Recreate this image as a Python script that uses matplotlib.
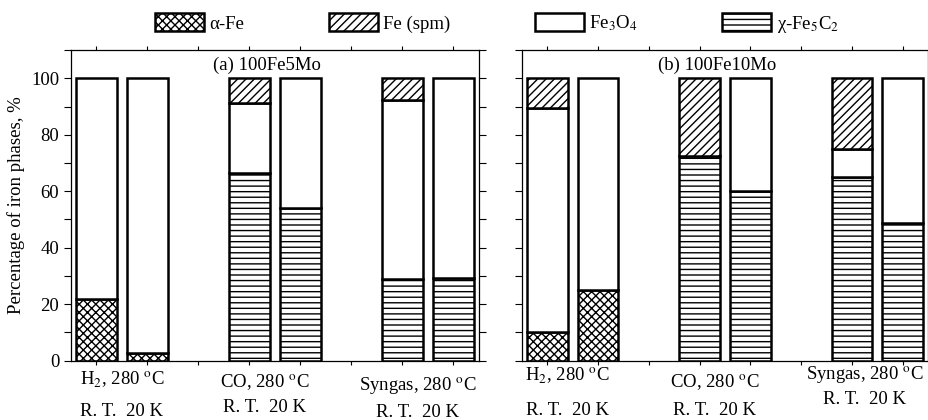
import numpy as np
import matplotlib
matplotlib.use('Agg')
import matplotlib.pyplot as plt
import matplotlib.patches as mpatches
from matplotlib.ticker import MultipleLocator
import matplotlib.transforms as mtransforms

plt.rcParams['font.family'] = ['Liberation Serif', 'DejaVu Serif']
plt.rcParams['mathtext.fontset'] = 'stix'
plt.rcParams['hatch.linewidth'] = 1.0

# x positions of bars (pairs: R.T. / 20 K)
positions = [1, 2, 4, 5, 7, 8]
conditions = ['H$_2$, 280 $^{\\rm o}$C', 'CO, 280 $^{\\rm o}$C', 'Syngas, 280 $^{\\rm o}$C']
temps = 'R. T.  20 K'
phase_names = ['α-Fe', 'Fe (spm)', 'Fe$_3$O$_4$', 'χ-Fe$_5$C$_2$']

# (a) 100Fe5Mo
a_alpha = [22.0, 2.8, 0, 0, 0, 0]
a_chi = [0, 0, 66.5, 54.2, 28.8, 29.3]
a_fe3o4 = [78.0, 97.2, 24.8, 45.8, 63.5, 70.7]
a_spm = [0, 0, 8.7, 0, 7.7, 0]

# (b) 100Fe10Mo
b_alpha = [10.3, 25.0, 0, 0, 0, 0]
b_chi = [0, 0, 72.5, 60.1, 65.2, 48.6]
b_fe3o4 = [79.3, 75.0, 0, 39.9, 9.7, 51.4]
b_spm = [10.4, 0, 27.5, 0, 25.1, 0]

hatches = {'alpha': 'xxxx', 'spm': '////', 'fe3o4': '', 'chi': '---'}
ew = 1.8
fs = 13.5

fig = plt.figure(figsize=(9.29, 4.2), dpi=100)
ax1 = fig.add_axes([0.0764, 0.1412, 0.4392, 0.7397])
ax2 = fig.add_axes([0.5619, 0.1412, 0.4370, 0.7397])


def draw(ax, alpha, chi, fe3o4, spm, title, l1_y, l2_y, dx):
    alpha = np.array(alpha)
    chi = np.array(chi)
    fe3o4 = np.array(fe3o4)
    spm = np.array(spm)
    kw = dict(width=0.8, color='white', edgecolor='black', linewidth=ew)
    ax.bar(positions, alpha, hatch=hatches['alpha'], **kw)
    ax.bar(positions, chi, bottom=alpha, hatch=hatches['chi'], **kw)
    ax.bar(positions, fe3o4, bottom=alpha + chi, hatch=hatches['fe3o4'], **kw)
    ax.bar(positions, spm, bottom=alpha + chi + fe3o4, hatch=hatches['spm'], **kw)
    # hide zero-height segments
    for p in ax.patches:
        if p.get_height() == 0:
            p.set_visible(False)

    ax.set_xlim(0.5, 8.5)
    ax.set_ylim(0, 110)
    ax.set_xticks(range(1, 9))
    ax.set_xticklabels([])
    ax.yaxis.set_major_locator(MultipleLocator(20))
    ax.yaxis.set_minor_locator(MultipleLocator(10))
    ax.tick_params(axis='y', which='both', direction='out', length=5, width=0.8,
                   labelsize=fs, right=True)
    ax.tick_params(axis='x', which='both', direction='out', length=3, width=0.8, top=True)
    for s in ax.spines.values():
        s.set_linewidth(0.9)
    ax.text(0.48, 0.952, title, transform=ax.transAxes, ha='center', va='center', fontsize=fs)

    trans = mtransforms.blended_transform_factory(ax.transData, ax.transAxes)
    for i, cond in enumerate(conditions):
        cx = (positions[2 * i] + positions[2 * i + 1]) / 2 + dx[i]
        ax.text(cx, l1_y[i], cond, transform=trans, ha='center', va='center', fontsize=fs)
        ax.text(cx, l2_y[i], temps, transform=trans, ha='center', va='center', fontsize=fs)


draw(ax1, a_alpha, a_chi, a_fe3o4, a_spm, '(a) 100Fe5Mo',
     [-0.062, -0.072, -0.082], [-0.165, -0.152, -0.168], [0.0, -0.2, -0.2])
draw(ax2, b_alpha, b_chi, b_fe3o4, b_spm, '(b) 100Fe10Mo',
     [-0.05, -0.072, -0.048], [-0.160, -0.160, -0.125], [-0.1, -0.2, -0.25])
ax2.set_yticklabels([])
ax1.set_ylabel('Percentage of iron phases, %', fontsize=fs, labelpad=4)

handles = [
    mpatches.Patch(facecolor='white', edgecolor='black', linewidth=ew, hatch=hatches[k])
    for k in ['alpha', 'spm', 'fe3o4', 'chi']
]
fig.legend(handles, phase_names, loc='center', bbox_to_anchor=(0.535, 0.943), ncol=4,
           frameon=False, fontsize=fs, handlelength=2.6, handleheight=1.1,
           handletextpad=0.3, columnspacing=4.5, borderpad=0.1)

fig.savefig('out.png', dpi=100)
